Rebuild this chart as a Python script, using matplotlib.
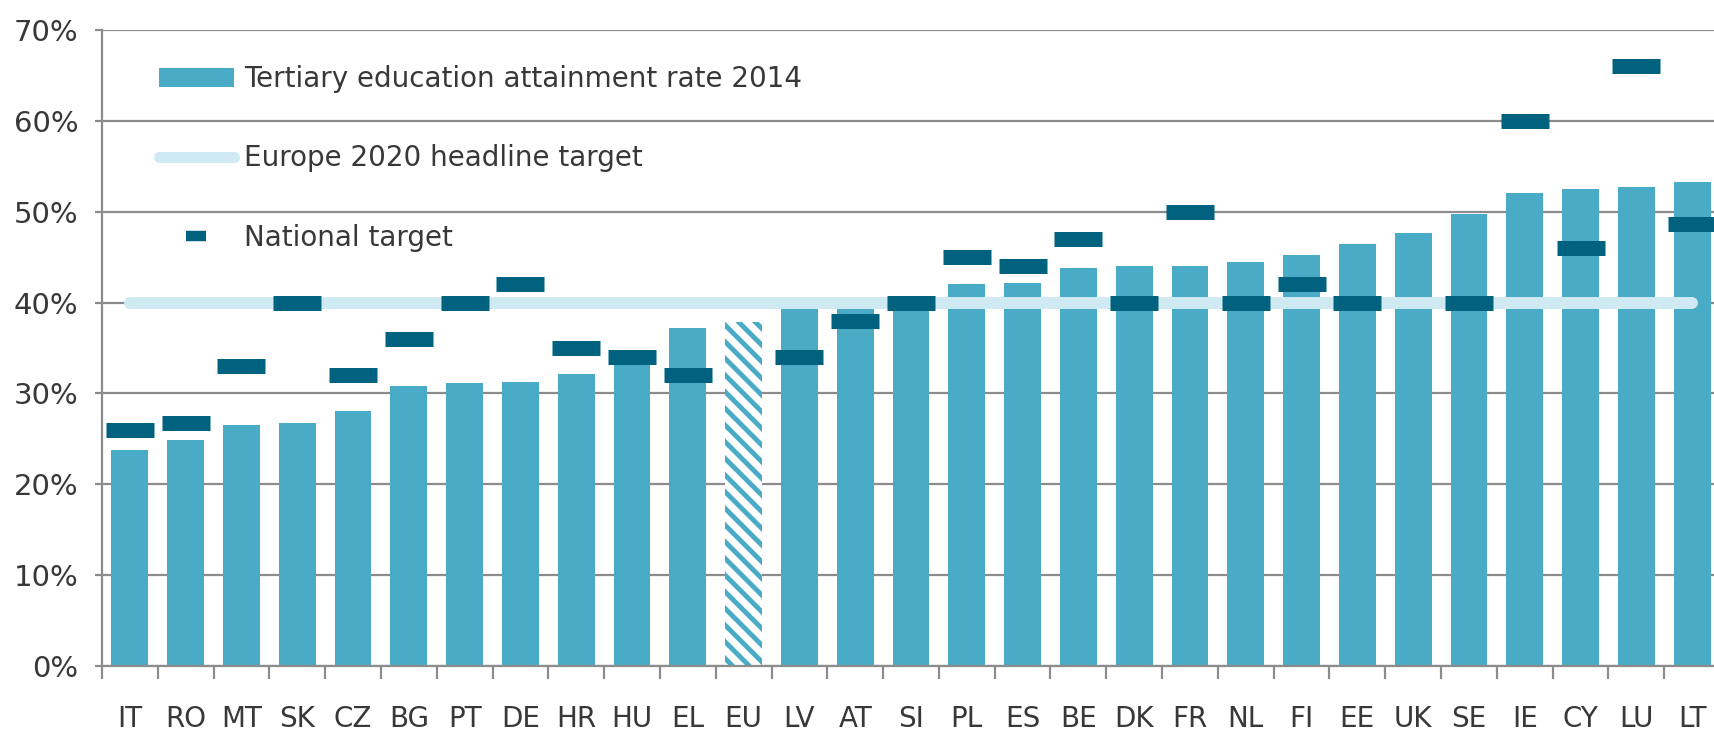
import numpy as np
import matplotlib
matplotlib.use("Agg")
import matplotlib.pyplot as plt
from matplotlib.lines import Line2D
from matplotlib.patches import Patch

# data (%)
countries = ["IT", "RO", "MT", "SK", "CZ", "BG", "PT", "DE", "HR", "HU", "EL", "EU",
             "LV", "AT", "SI", "PL", "ES", "BE", "DK", "FR", "NL", "FI", "EE", "UK",
             "SE", "IE", "CY", "LU", "LT"]
attainment_2014 = [23.8, 24.9, 26.5, 26.8, 28.1, 30.8, 31.2, 31.3, 32.1, 33.6, 37.2, 37.9,
                   39.9, 40.0, 40.5, 42.0, 42.2, 43.8, 44.0, 44.0, 44.5, 45.2, 46.5, 47.7,
                   49.8, 52.1, 52.5, 52.7, 53.3]
national_target = [26.0, 26.7, 33.0, 40.0, 32.0, 36.0, 40.0, 42.0, 35.0, 34.0, 32.0, np.nan,
                   34.0, 38.0, 40.0, 45.0, 44.0, 47.0, 40.0, 50.0, 40.0, 42.0, 40.0, np.nan,
                   40.0, 60.0, 46.0, 66.0, 48.6]
eu_target = 40.0
yticks = [0, 10, 20, 30, 40, 50, 60, 70]

bar_col = "#4aabc7"
dark_col = "#00627e"
light_col = "#cfeaf3"
grid_col = "#8c8c8c"
text_col = "#383838"

plt.rcParams["font.family"] = ["DejaVu Sans"]
plt.rcParams["hatch.linewidth"] = 3.5

fig = plt.figure(figsize=(17.15, 7.3), dpi=100)
ax = fig.add_axes([102 / 1715, 64 / 730, 1618 / 1715, 636 / 730])

x = np.arange(len(countries))
vals = np.array(attainment_2014)
targ = np.array(national_target)

is_eu = np.array([c == "EU" for c in countries])
ax.bar(x[~is_eu], vals[~is_eu], width=0.66, color=bar_col, zorder=2)
ax.bar(x[is_eu], vals[is_eu], width=0.66, facecolor="white", edgecolor=bar_col,
       hatch="\\\\", linewidth=0, zorder=2)

# Europe 2020 headline target line
ax.plot([x[0], x[-1]], [eu_target, eu_target], color=light_col, lw=8.6,
        solid_capstyle="round", zorder=3)

# national targets
ok = ~np.isnan(targ)
ax.hlines(targ[ok], x[ok] - 0.43, x[ok] + 0.43, colors=dark_col, lw=10.8, zorder=4)

ax.set_xlim(-0.5, len(countries) - 0.5)
ax.set_ylim(0, 70)
ax.set_yticks(yticks)
ax.set_yticklabels([f"{t}%" for t in yticks])
ax.set_xticks(x)
ax.set_xticklabels(countries)
ax.set_xticks(np.arange(len(countries) + 1) - 0.5, minor=True)

ax.set_axisbelow(True)
ax.yaxis.grid(True, color=grid_col, lw=1.6)
for s in ["top", "right"]:
    ax.spines[s].set_visible(False)
ax.spines["left"].set_color(grid_col)
ax.spines["left"].set_linewidth(1.6)
ax.spines["bottom"].set_color(grid_col)
ax.spines["bottom"].set_linewidth(1.6)

ax.tick_params(axis="y", length=5, width=1.6, color=grid_col, pad=12,
               labelsize=21, labelcolor=text_col)
ax.tick_params(axis="x", which="major", length=0, pad=28, labelsize=20, labelcolor=text_col)
ax.tick_params(axis="x", which="minor", length=9, width=1.6, color=grid_col)

handles = [
    Patch(facecolor=bar_col, edgecolor="none"),
    Line2D([], [], color=light_col, lw=8, solid_capstyle="round"),
    Line2D([], [], ls="none", marker="_", ms=14, mew=7.5, color=dark_col),
]
labels = ["Tertiary education attainment rate 2014",
          "Europe 2020 headline target",
          "National target"]
leg = ax.legend(handles, labels, loc="upper left", bbox_to_anchor=(0.035, 0.945),
                frameon=False, fontsize=20, labelspacing=1.85, handlelength=2.7,
                handletextpad=0.38, borderpad=0, borderaxespad=0)
for t in leg.get_texts():
    t.set_color(text_col)

fig.savefig("out.png", dpi=100)
